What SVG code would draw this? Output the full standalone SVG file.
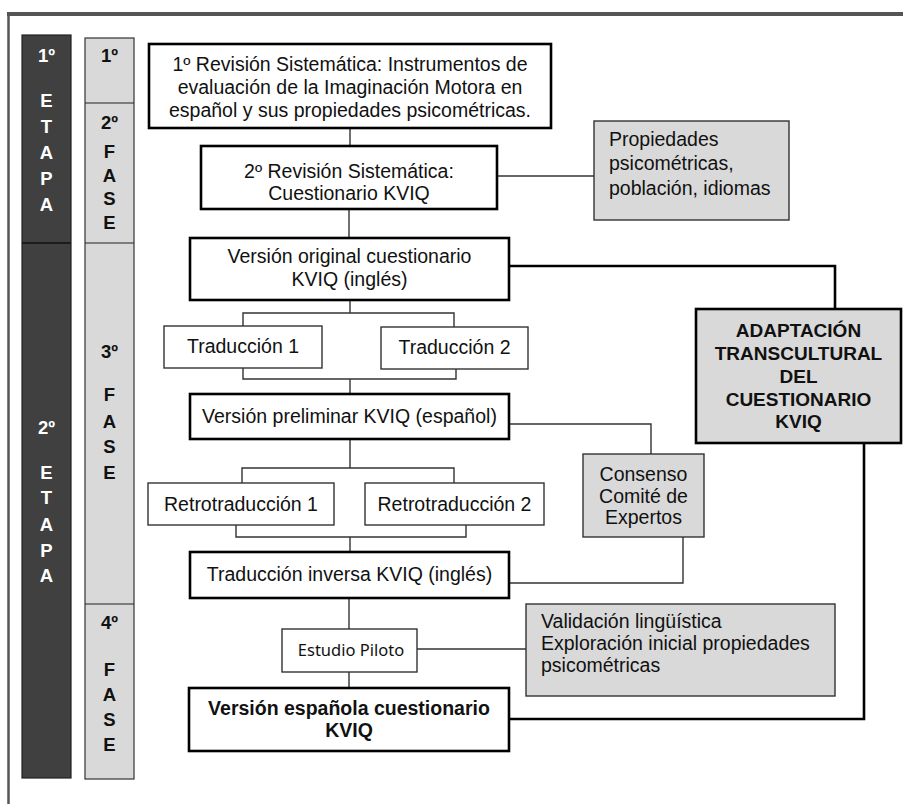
<svg xmlns="http://www.w3.org/2000/svg" width="903" height="804" viewBox="0 0 903 804">
<style>
text{font-family:"Liberation Sans",Arial,sans-serif;font-size:19.5px;fill:#111}
.c{text-anchor:middle}
.b{font-weight:bold}
.ad{font-size:19px}
.col{font-weight:bold;font-size:18.5px;text-anchor:middle}
.w{fill:#fff}
.main{fill:#fff;stroke:#000;stroke-width:2.6}
.sub{fill:#fff;stroke:#333;stroke-width:1.4}
.gray{fill:#d9d9d9;stroke:#333;stroke-width:1.4}
.grayb{fill:#d9d9d9;stroke:#000;stroke-width:2.6}
.ln{fill:none;stroke:#333;stroke-width:1.4}
.lnb{fill:none;stroke:#000;stroke-width:2.6}
.pil{font-family:"Noto Sans","Open Sans",sans-serif;font-size:16.5px}
</style>
<rect width="903" height="804" fill="#fff"/>
<g id="frame">
<line x1="7" y1="14" x2="903" y2="14" stroke="#555" stroke-width="4"/>
<line x1="8.5" y1="12" x2="8.5" y2="804" stroke="#555" stroke-width="2.5"/>
</g>
<g id="etapas">
<rect x="22" y="35" width="49" height="743" fill="#404040" stroke="#222" stroke-width="1.2"/>
<line x1="22" y1="243" x2="71" y2="243" stroke="#111" stroke-width="1.5"/>
<text class="col w" x="46.5" y="62">1º</text>
<text class="col w" x="46.5" y="107">E</text>
<text class="col w" x="46.5" y="133">T</text>
<text class="col w" x="46.5" y="159">A</text>
<text class="col w" x="46.5" y="185">P</text>
<text class="col w" x="46.5" y="211">A</text>
<text class="col w" x="46.5" y="434">2º</text>
<text class="col w" x="46.5" y="479">E</text>
<text class="col w" x="46.5" y="504">T</text>
<text class="col w" x="46.5" y="531">A</text>
<text class="col w" x="46.5" y="557">P</text>
<text class="col w" x="46.5" y="582">A</text>
</g>
<g id="fases">
<rect x="85" y="38" width="49" height="741" fill="#d9d9d9" stroke="#333" stroke-width="1.2"/>
<line x1="85" y1="103" x2="134" y2="103" stroke="#222" stroke-width="1.2"/>
<line x1="85" y1="243" x2="134" y2="243" stroke="#222" stroke-width="1.2"/>
<line x1="85" y1="604" x2="134" y2="604" stroke="#222" stroke-width="1.2"/>
<text class="col" x="109.5" y="62">1º</text>
<text class="col" x="109.5" y="129">2º</text>
<text class="col" x="109.5" y="158">F</text>
<text class="col" x="109.5" y="182">A</text>
<text class="col" x="109.5" y="205">S</text>
<text class="col" x="109.5" y="229">E</text>
<text class="col" x="109.5" y="358">3º</text>
<text class="col" x="109.5" y="401">F</text>
<text class="col" x="109.5" y="428">A</text>
<text class="col" x="109.5" y="453">S</text>
<text class="col" x="109.5" y="479">E</text>
<text class="col" x="109.5" y="629">4º</text>
<text class="col" x="109.5" y="676">F</text>
<text class="col" x="109.5" y="701">A</text>
<text class="col" x="109.5" y="726">S</text>
<text class="col" x="109.5" y="751">E</text>
</g>
<g id="connectors">
<line class="ln" x1="350" y1="128" x2="350" y2="146"/>
<line class="ln" x1="497" y1="176" x2="594" y2="176"/>
<line class="ln" x1="349" y1="209" x2="349" y2="238"/>
<polyline class="lnb" points="509,266 835,266 835,309"/>
<polyline class="ln" points="350,300 350,313"/>
<polyline class="ln" points="243,326 243,313 454,313 454,327"/>
<polyline class="ln" points="243,368 243,379 456,379 456,369"/>
<line class="ln" x1="350" y1="379" x2="350" y2="394"/>
<polyline class="ln" points="509,424 651,424 651,454"/>
<line class="ln" x1="350" y1="439" x2="350" y2="468"/>
<polyline class="ln" points="242,483 242,468 454,468 454,483"/>
<polyline class="ln" points="236,525 236,537 466,537 466,525"/>
<line class="ln" x1="350" y1="537" x2="350" y2="552"/>
<polyline class="ln" points="683,537 683,583 509,583"/>
<line class="ln" x1="349" y1="598" x2="349" y2="629"/>
<line class="ln" x1="417" y1="649" x2="526" y2="649"/>
<line class="ln" x1="349" y1="672" x2="349" y2="688"/>
<polyline class="lnb" points="864,443 864,719 509,719"/>
</g>
<g id="n1">
<rect class="main" x="149" y="44" width="402" height="84"/>
<text class="c" x="350" y="71">1º Revisión Sistemática: Instrumentos de</text>
<text class="c" x="350" y="94">evaluación de la Imaginación Motora en</text>
<text class="c" x="350" y="116.5">español y sus propiedades psicométricas.</text>
</g>
<g id="n2">
<rect class="main" x="201" y="146" width="296" height="63"/>
<text class="c" x="349" y="178">2º Revisión Sistemática:</text>
<text class="c" x="349" y="200">Cuestionario KVIQ</text>
</g>
<g id="n-propiedades">
<rect class="gray" x="594" y="121" width="195" height="99"/>
<text x="609" y="146">Propiedades</text>
<text x="609" y="170">psicométricas,</text>
<text x="609" y="195">población, idiomas</text>
</g>
<g id="n3">
<rect class="main" x="190" y="238" width="319" height="62"/>
<text class="c" x="349.5" y="263">Versión original cuestionario</text>
<text class="c" x="349.5" y="286">KVIQ (inglés)</text>
</g>
<g id="n-adaptacion">
<rect class="grayb" x="696" y="309" width="205" height="134"/>
<text class="c b ad" x="798.5" y="337">ADAPTACIÓN</text>
<text class="c b ad" x="798.5" y="360">TRANSCULTURAL</text>
<text class="c b ad" x="798.5" y="383">DEL</text>
<text class="c b ad" x="798.5" y="406">CUESTIONARIO</text>
<text class="c b ad" x="798.5" y="428">KVIQ</text>
</g>
<g id="n-trad1">
<rect class="sub" x="164" y="326" width="158" height="42"/>
<text class="c" x="243" y="353">Traducción 1</text>
</g>
<g id="n-trad2">
<rect class="sub" x="381" y="327" width="147" height="42"/>
<text class="c" x="454.5" y="354">Traducción 2</text>
</g>
<g id="n-prelim">
<rect class="main" x="190" y="394" width="319" height="45"/>
<text class="c" x="349.5" y="423">Versión preliminar KVIQ (español)</text>
</g>
<g id="n-consenso">
<rect class="gray" x="583" y="454" width="121" height="83"/>
<text class="c" x="643.5" y="481">Consenso</text>
<text class="c" x="643.5" y="503">Comité de</text>
<text class="c" x="643.5" y="524">Expertos</text>
</g>
<g id="n-retro1">
<rect class="sub" x="148" y="483" width="186" height="42"/>
<text class="c" x="241" y="511">Retrotraducción 1</text>
</g>
<g id="n-retro2">
<rect class="sub" x="365" y="483" width="179" height="42"/>
<text class="c" x="454.5" y="511">Retrotraducción 2</text>
</g>
<g id="n-inversa">
<rect class="main" x="190" y="552" width="319" height="46"/>
<text class="c" x="349.5" y="581">Traducción inversa KVIQ (inglés)</text>
</g>
<g id="n-piloto">
<rect class="sub" x="282" y="629" width="135" height="43"/>
<text class="c pil" x="351" y="656">Estudio Piloto</text>
</g>
<g id="n-validacion">
<rect class="gray" x="526" y="604" width="309" height="92"/>
<text x="541" y="628">Validación lingüística</text>
<text x="541" y="650">Exploración inicial propiedades</text>
<text x="541" y="672">psicométricas</text>
</g>
<g id="n-final">
<rect class="main" x="189" y="688" width="320" height="63"/>
<text class="c b" x="349" y="715">Versión española cuestionario</text>
<text class="c b" x="349" y="737">KVIQ</text>
</g>
</svg>
